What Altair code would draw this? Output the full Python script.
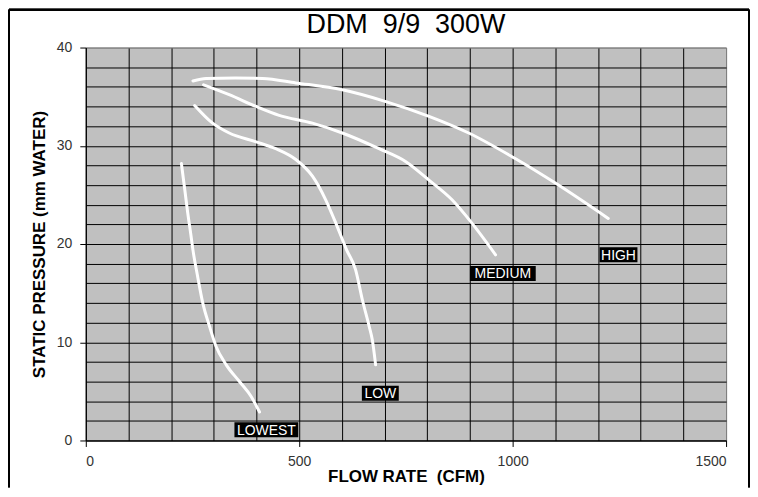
import altair as alt
import pandas as pd

# ---- data ----
chart_title = "DDM\u00a0\u00a09/9\u00a0\u00a0300W"
x_title = "FLOW RATE\u00a0\u00a0(CFM)"
y_title = "STATIC PRESSURE (mm WATER)"

high_x = [251, 282, 350, 414, 492, 601, 703, 804, 897, 1006, 1100, 1224]
high_y = [36.6, 36.85, 36.9, 36.85, 36.4, 35.7, 34.5, 33.0, 31.3, 28.7, 26.2, 22.6]

medium_x = [276, 336, 399, 453, 531, 601, 687, 749, 804, 858, 905, 960]
medium_y = [36.2, 35.2, 34.0, 33.1, 32.3, 31.3, 29.7, 28.4, 26.5, 24.5, 22.1, 18.9]

low_x = [255, 297, 336, 399, 445, 492, 531, 562, 586, 611, 632, 648, 664, 671, 679]
low_y = [34.1, 32.3, 31.3, 30.4, 29.7, 28.6, 26.9, 24.5, 22.1, 19.4, 17.4, 14.3, 11.6, 10.3, 7.7]

lowest_x = [224, 232, 239, 246, 251, 262, 274, 290, 305, 329, 360, 387, 407]
lowest_y = [28.2, 25.5, 23.1, 21.0, 19.4, 16.7, 14.0, 11.6, 9.6, 7.7, 6.0, 4.5, 2.9]

label_names = ["LOWEST", "LOW", "MEDIUM", "HIGH"]
label_x = [423, 690, 977, 1248]
label_y = [1.1, 4.8, 17.0, 18.9]

x_ticks = list(range(0, 1501, 100))
y_ticks = list(range(0, 41, 2))

# ---- tables ----
rows = []
for name, xs, ys in [("HIGH", high_x, high_y), ("MEDIUM", medium_x, medium_y),
                     ("LOW", low_x, low_y), ("LOWEST", lowest_x, lowest_y)]:
    for i, (a, b) in enumerate(zip(xs, ys)):
        rows.append({"series": name, "flow": a, "pressure": b, "order": i})
curves = pd.DataFrame(rows)
labels = pd.DataFrame({"name": label_names, "flow": label_x, "pressure": label_y})
title_df = pd.DataFrame({"t": [chart_title]})

FONT = "Liberation Sans"

x_scale = alt.Scale(domain=[0, 1500], nice=False, zero=True)
y_scale = alt.Scale(domain=[0, 40], nice=False, zero=True)

x_axis = alt.Axis(
    values=x_ticks, format="d",
    labelExpr="datum.value % 500 === 0 ? datum.label : ''",
    tickOpacity={"condition": {"test": "datum.value % 500 === 0", "value": 1}, "value": 0},
    gridColor={"condition": {"test": "datum.value === 1500", "value": "#808080"}, "value": "#000000"},
    grid=True, gridOpacity=1, gridWidth=1,
    tickSize=6, tickColor="#000000", domainColor="#000000",
    labelFont=FONT, labelFontSize=14, labelColor="#333333", labelPadding=8,
    title=x_title, titleFont=FONT, titleFontSize=17, titleFontWeight="bold",
    titleColor="#000000", titlePadding=0,
)
y_axis = alt.Axis(
    values=y_ticks, format="d",
    labelExpr="datum.value % 10 === 0 ? datum.label : ''",
    tickOpacity={"condition": {"test": "datum.value % 10 === 0", "value": 1}, "value": 0},
    gridColor={"condition": {"test": "datum.value === 40", "value": "#808080"}, "value": "#000000"},
    grid=True, gridOpacity=1, gridWidth=1,
    tickSize=6, tickColor="#000000", domainColor="#000000",
    labelFont=FONT, labelFontSize=14, labelColor="#333333", labelPadding=8,
    title=y_title, titleFont=FONT, titleFontSize=17,
    titleFontWeight="bold", titleColor="#000000", titlePadding=8,
)

X = alt.X("flow:Q", scale=x_scale, axis=x_axis)
Y = alt.Y("pressure:Q", scale=y_scale, axis=y_axis)

lines = alt.Chart(curves).mark_line(
    color="white", strokeWidth=3, strokeCap="round", strokeJoin="round",
    interpolate="monotone"
).encode(x=X, y=Y, detail="series:N", order="order:Q")

widths = {"LOWEST": 64, "LOW": 37, "MEDIUM": 66, "HIGH": 38}
boxes = []
for nm in label_names:
    boxes.append(
        alt.Chart(labels).transform_filter(alt.datum.name == nm)
        .mark_rect(color="black", width=widths[nm], height=15)
        .encode(x=X, y=Y)
    )

texts = alt.Chart(labels).mark_text(
    color="white", font=FONT, fontSize=14, baseline="middle", align="center", dy=1
).encode(x=X, y=Y, text="name:N")

title_mark = alt.Chart(title_df).mark_text(
    font=FONT, fontSize=27, color="#000000", align="center", baseline="alphabetic"
).encode(x=alt.value(321), y=alt.value(-15), text="t:N")

frame_left = alt.Chart(labels).mark_rule(color="black", strokeWidth=2).encode(
    x=alt.value(-77), y=alt.value(-38), y2=alt.value(441))
frame_right = alt.Chart(labels).mark_rule(color="black", strokeWidth=2).encode(
    x=alt.value(665), y=alt.value(-38), y2=alt.value(441))
frame_top = alt.Chart(labels).mark_rule(color="black", strokeWidth=2).encode(
    x=alt.value(-77), x2=alt.value(665), y=alt.value(-38))

chart = alt.layer(lines, *boxes, texts, title_mark,
                  frame_left, frame_right, frame_top).properties(
    width=642, height=394,
    background="white",
    autosize=alt.AutoSizeParams(type="none"),
    padding={"left": 78, "top": 39, "right": 24, "bottom": 47},
).configure_view(
    fill="#C0C0C0", stroke="#808080", strokeWidth=1
)

chart.save("out.html", embed_options={"renderer": "svg", "actions": False})
